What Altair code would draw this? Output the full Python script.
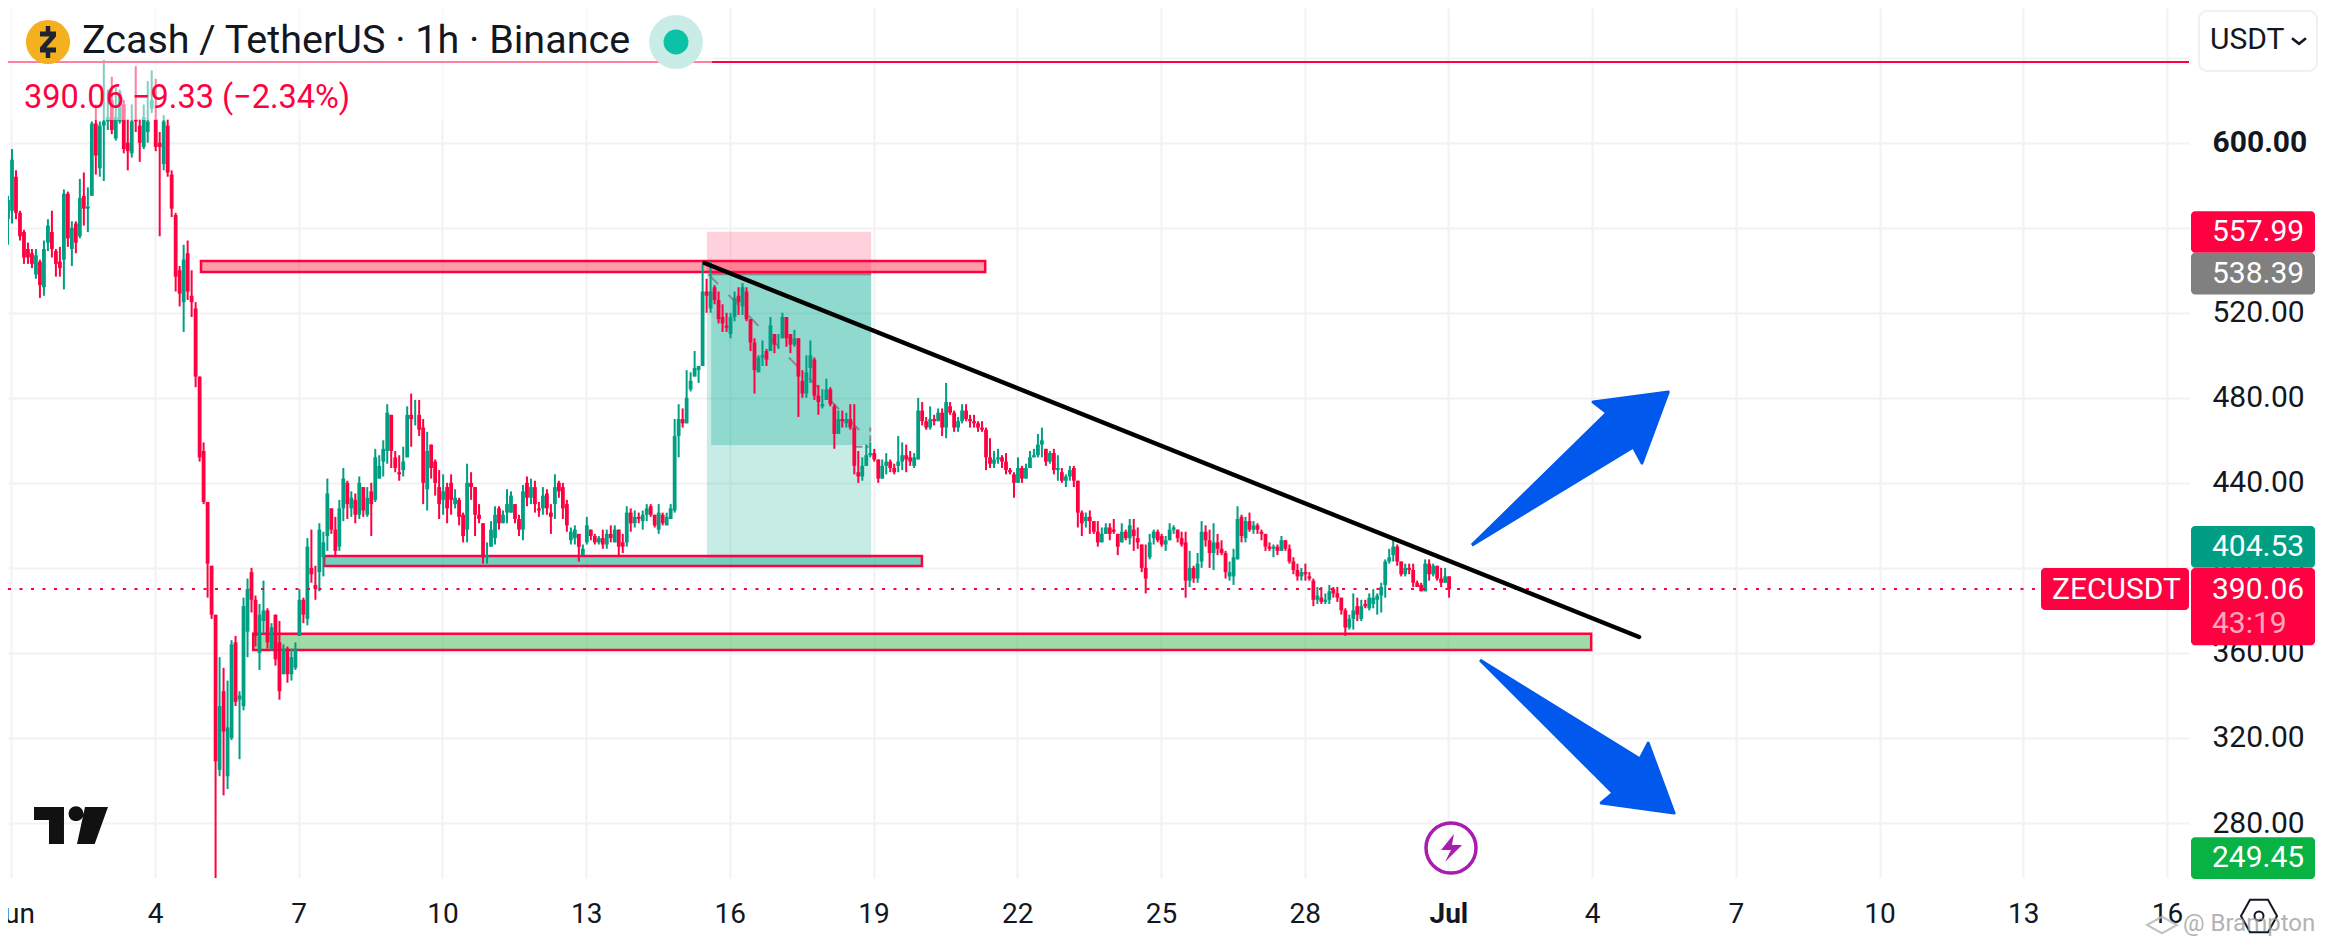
import altair as alt
import pandas as pd

# candles: (open, high, low, close), two-hour steps
seg_jun1 = [(564,575,552,573),(568,597,562,592),(584,587,564,567),(567,568,554,556),(558,559,543,546),(550,553,543,546),(548,550,541,543),(538,550,536,547),(544,545,527,533),(532,554,528,550),(553,564,549,561),(558,568,546,550),
(549,550,537,543),(544,551,537,541),(545,578,531,576),(576,577,551,555),(550,563,542,560),(562,563,548,553),(556,583,555,574),(575,586,561,569),(569,579,558,570),(575,610,575,609),(609,618,585,594),(588,610,584,608)]
seg_jun3 = [(608,639,582,610),(610,625,606,612),(620,631,604,606),(602,626,601,612),(610,625,609,624),(618,620,595,597),(600,611,587,596),(595,618,593,610),(611,636,605,610),(608,611,591,600),(598,618,597,612),(605,629,600,610),
(616,634,614,620),(611,630,596,598),(600,605,556,598),(590,613,587,610),(608,611,584,586),(585,587,565,569),(566,567,530,537),(540,542,523,529),(525,552,511,545),(548,554,526,530),(528,540,518,525),(522,525,485,490)]
seg_jun5 = [(490,490,450,452),(455,459,430,431),(431,431,386,402),(401,401,376,378),(378,378,253,309),(305,358,302,335),(342,353,293,323),(302,347,296,325),(320,366,319,364),(365,368,335,337),(338,342,310,340),(335,386,333,382),
(370,395,358,390),(398,400,379,385),(385,387,363,368),(360,383,352,378),(375,394,369,380),(380,381,362,365),(362,374,361,372),(378,377,354,357),(365,375,338,342),(350,364,351,362),(362,363,346,350),(350,362,347,358)]
seg_jun7 = [(353,365,352,362),(368,390,372,385),(385,386,374,378),(376,414,373,410),(400,418,393,397),(392,401,385,390),(398,421,389,418),(405,417,396,412),(415,442,408,435),(428,428,416,418),(418,424,405,408),(410,432,408,428),
(428,447,422,442),(440,441,423,430),(428,436,424,433),(432,435,421,425),(425,443,423,440),(438,436,424,427),(425,438,424,433),(436,440,415,430),(432,456,431,452),(442,453,442,448),(450,460,443,456),(455,477,449,473)]
seg_jun9 = [(472,472,447,455),(452,455,445,447),(445,453,441,444),(446,457,443,450),(452,476,452,472),(472,482,457,470),(470,479,467,470),(472,479,462,465),(466,470,430,440),(437,464,427,455),(458,458,442,447),(450,451,434,440),
(438,446,423,430),(432,444,425,436),(438,440,421,428),(440,444,425,432),(430,437,428,433),(432,433,420,424),(425,426,412,415),(418,449,412,440),(440,445,432,438),(438,438,415,425),(425,430,421,423),(421,421,402,405)]
seg_jun11 = [(405,412,402,406),(410,422,411,418),(414,429,411,425),(428,429,418,421),(421,427,421,425),(426,437,421,430),(426,436,426,434),(430,430,421,423),(423,425,415,418),(418,439,413,436),(440,443,429,433),(433,442,430,438),
(438,441,426,430),(428,431,424,427),(428,438,425,434),(435,437,425,428),(426,430,416,424),(430,444,423,438),(440,441,433,436),(438,440,423,428),(430,432,417,420),(413,419,411,417),(414,420,411,418),(416,416,403,410)]
seg_jun13 = [(406,411,406,409),(412,424,411,420),(418,418,413,415),(415,416,411,412),(412,415,411,414),(414,418,409,411),(411,418,409,416),(416,420,412,414),(412,420,413,418),(418,418,406,410),(412,416,407,410),(412,429,410,426),
(426,428,417,421),(421,427,419,424),(424,426,421,423),(422,427,418,425),(425,430,422,428),(429,430,424,425),(425,425,419,420),(418,430,416,426),(425,426,420,421),(420,426,420,424),(423,430,424,428),(427,470,426,462)]
seg_jun15 = [(462,477,452,470),(470,475,466,468),(468,493,469,480),(484,492,483,488),(490,502,490,494),(493,495,487,495),(495,543,495,530),(530,536,520,528),(522,544,520,530),(532,533,524,526),(526,530,515,517),(518,524,511,515),
(514,520,511,513),(510,520,508,518),(518,530,516,527),(528,532,519,525),(523,534,519,532),(530,532,516,517),(517,517,502,506),(506,508,482,493),(492,500,492,499),(499,507,495,500),(502,503,495,498),(502,518,504,514)]
seg_jun17 = [(510,510,501,505),(505,510,503,505),(508,520,509,518),(518,518,504,508),(510,510,501,505),(505,512,504,508),(508,508,471,490),(488,493,480,482),(482,500,480,492),(494,507,487,500),(498,499,479,481),(481,486,472,478),
(476,484,475,477),(479,489,483,484),(484,485,476,477),(476,477,456,463),(463,474,463,470),(470,474,466,469),(468,473,466,470),(470,477,465,466),(466,477,444,448),(445,455,440,443),(443,452,441,448),(448,458,450,453)]
seg_jun19 = [(453,459,452,454),(454,456,450,451),(451,451,440,442),(442,451,442,448),(448,454,444,450),(450,451,445,447),(447,449,444,445),(448,462,445,450),(450,459,446,453),(453,458,445,451),(452,455,448,450),(448,454,447,452),
(451,480,451,474),(474,478,467,469),(469,471,465,466),(466,476,465,470),(470,472,467,469),(469,475,469,473),(473,475,462,466),(466,487,461,478),(476,478,472,473),(473,474,464,466),(466,471,464,469),(469,477,468,474)]
seg_jun21 = [(474,477,469,470),(470,472,466,469),(469,472,466,468),(468,469,464,466),(466,469,464,465),(465,466,446,452),(452,461,447,449),(449,455,447,451),(451,456,449,452),(452,453,447,450),(450,454,444,446),(446,447,444,445),
(444,445,433,440),(440,452,441,447),(447,448,440,442),(442,449,442,447),(447,455,447,452),(452,456,452,453),(453,463,452,458),(458,466,452,460),(456,456,448,450),(450,455,449,454),(454,456,444,446),(446,453,441,447)]
seg_jun23 = [(445,447,440,441),(441,444,438,443),(443,448,441,446),(447,448,438,441),(441,441,419,426),(426,427,415,421),(422,426,419,424),(424,427,416,422),(422,422,416,417),(417,422,410,412),(412,419,413,416),(416,421,416,419),
(419,421,413,416),(418,423,416,417),(416,416,406,410),(412,421,413,417),(417,418,413,414),(414,423,411,420),(418,423,408,415),(414,419,409,412),(411,411,398,400),(400,411,388,395),(405,416,404,412),(414,418,411,417)]
seg_jun25 = [(417,418,412,413),(415,416,410,411),(411,415,408,413),(413,421,413,418),(418,420,416,419),(418,418,412,414),(414,417,410,411),(412,417,386,394),(394,408,391,400),(400,401,393,395),(395,407,393,402),(403,422,400,417),
(417,420,410,413),(413,418,400,407),(407,421,399,412),(412,416,406,409),(409,413,406,407),(407,408,395,398),(396,403,394,398),(396,409,392,405),(404,429,404,423),(424,425,412,415),(414,424,412,422),(422,426,417,418)]
seg_jun27 = [(418,422,416,420),(420,421,416,418),(417,418,413,416),(416,416,408,410),(410,412,408,409),(409,411,405,410),(410,411,406,408),(408,415,408,413),(413,413,408,409),(409,411,402,403),(403,405,397,399),(399,402,394,396),
(396,400,394,398),(398,402,394,397),(396,398,394,395),(394,395,382,385),(385,391,383,387),(386,391,383,384),(384,388,383,385),(385,392,383,389),(390,391,386,388),(388,391,384,386),(386,386,378,380),(380,381,368,372)]
seg_jun29 = [(372,378,371,376),(376,388,371,380),(382,386,375,378),(376,385,375,382),(383,385,381,382),(381,388,380,386),(383,390,381,386),(385,388,378,387),(387,393,379,391),(392,404,386,403),(403,409,402,405),(406,414,403,410),
(410,411,401,403),(403,403,396,397),(397,402,396,400),(400,402,397,399),(399,402,391,393),(393,394,391,391),(392,393,389,389),(389,404,389,402),(402,404,394,397),(397,402,396,401),(401,401,394,395),(395,400,391,393),(393,400,394,396),(396,396,386,390.06)]

GREEN, RED = "#009f83", "#ff0040"
INK = "#131722"
FONT = "Roboto"
X0, X1 = 0.931, 46.46           # days of the left and right plot edges
Y0, Y1 = 254.13, 663.36         # prices of the bottom and top plot edges
xs = alt.Scale(domain=[X0, X1], nice=False, zero=False)
ys = alt.Scale(domain=[Y0, Y1], nice=False, zero=False)

price_ticks = [280, 320, 360, 400, 440, 480, 520, 560, 600, 640]
day_ticks = list(range(1, 47, 3))

rows = (seg_jun1 + seg_jun3 + seg_jun5 + seg_jun7 + seg_jun9 + seg_jun11 + seg_jun13 + seg_jun15
        + seg_jun17 + seg_jun19 + seg_jun21 + seg_jun23 + seg_jun25 + seg_jun27 + seg_jun29)
candles = pd.DataFrame(rows, columns=["o", "h", "l", "c"])
candles["d"] = [X0 + i / 12 for i in range(len(rows))]
candles["h"] = candles[["o", "h", "c"]].max(axis=1)
candles["l"] = candles[["o", "l", "c"]].min(axis=1)
candles["col"] = [GREEN if c >= o else RED for o, c in zip(candles.o, candles.c)]

# the same axis objects go on every layer, so that Vega-Lite merges them into one
x_axis = alt.Axis(values=day_ticks, grid=True, gridColor="#f1f2f4", gridWidth=2, domain=False, ticks=False,
                  labelFont=FONT, labelFontSize=28, labelColor=INK, labelPadding=22, labelOverlap=False,
                  labelBound=False, labelFlush=False, labelAngle=0,
                  labelFontWeight=alt.expr("datum.value==31?'bold':'normal'"),
                  labelExpr="datum.value==1?'Jun':datum.value==31?'Jul':datum.value>31?toString(datum.value-30):toString(datum.value)",
                  title=None)
y_axis = alt.Axis(values=price_ticks, orient="right", grid=True, gridColor="#f1f2f4", gridWidth=2, domain=False, ticks=False,
                  labelFont=FONT, labelFontSize=30, labelColor=INK, labelPadding=23, labelOverlap=False,
                  labelBound=False, labelFlush=False,
                  labelFontWeight=alt.expr("datum.value==600?'bold':'normal'"),
                  labelExpr="datum.value==640?'':format(datum.value,'.2f')", title=None)

def px(v):
    return v - 8

def X(f="d"):
    return alt.X(f"{f}:Q", scale=xs, axis=x_axis, title=None)

def Y(f="p"):
    return alt.Y(f"{f}:Q", scale=ys, axis=y_axis, title=None)

def rect(d1, d2, p1, p2, **kw):
    df = pd.DataFrame({"d": [d1], "d2": [d2], "p": [p1], "p2": [p2]})
    return alt.Chart(df).mark_rect(**kw).encode(x=X("d"), x2="d2:Q", y=Y("p"), y2="p2:Q")

def line(ds, ps, **kw):
    df = pd.DataFrame({"d": ds, "p": ps, "o": range(len(ds))})
    return alt.Chart(df).mark_line(**kw).encode(x=X("d"), y=Y("p"), order="o:Q")

def label(txt, xp, yp, size=30, color=INK, weight="normal", align="left", opacity=1):
    df = pd.DataFrame({"t": [txt]})
    return alt.Chart(df).mark_text(font=FONT, fontSize=size, fontWeight=weight, align=align, baseline="middle",
                                   color=color, opacity=opacity).encode(
        text="t:N", x=alt.value(px(xp)), y=alt.value(px(yp)))

def glyph(path, xp, yp, size, filled=True, color=INK, sw=2, opacity=1):
    df = pd.DataFrame({"k": [0]})
    kw = dict(fill=color, strokeWidth=0) if filled else dict(stroke=color, strokeWidth=sw, fill="transparent")
    return alt.Chart(df).mark_point(shape=path, size=size, opacity=opacity, **kw).encode(
        x=alt.value(px(xp)), y=alt.value(px(yp)))

wicks = alt.Chart(candles).mark_rule(strokeWidth=2, clip=True).encode(
    x=X("d"), y=Y("h"), y2="l:Q", color=alt.Color("col:N", scale=None))
bodies = alt.Chart(candles).mark_rule(strokeWidth=3.8, clip=True).encode(
    x=X("d"), y=Y("o"), y2="c:Q", color=alt.Color("col:N", scale=None))

# trade-position drawing
pos_stop = rect(15.52, 18.95, 558.1, 538.3, fill=RED, opacity=0.18)
pos_target = rect(15.52, 18.95, 538.3, 404.5, fill="#00a88e", opacity=0.22)
pos_fill = rect(15.61, 18.95, 538.3, 457.8, fill="#00a88e", opacity=0.28)
pos_entry = line([15.61, 18.95], [538.2, 538.2], color="#888888", strokeWidth=2.5)
path_a = line([15.55, 18.93], [538.2, 459.5], color="#8a8a8a", strokeWidth=2, strokeDash=[14, 15])
path_b = line([18.93, 18.93], [459.5, 466], color="#8a8a8a", strokeWidth=2, strokeDash=[6, 4])
path_c = line([18.6, 18.9], [457, 457], color="#8a8a8a", strokeWidth=2, strokeDash=[8, 4])

# zones
zone_red = rect(4.96, 21.33, 544.4, 539.2, fill="#ff082a", fillOpacity=0.4, stroke=RED, strokeWidth=2.5)
zone_teal = rect(7.53, 20.01, 405.6, 400.9, fill="#00ab8c", fillOpacity=0.55, stroke=RED, strokeWidth=2.5)
zone_green = rect(6.05, 33.98, 369.0, 361.4, fill="#4ec160", fillOpacity=0.55, stroke=RED, strokeWidth=2.5)

# horizontal lines
top_line = line([X0, X1], [637.96, 637.96], color=RED, strokeWidth=2)
last_line = line([X0, 43.37], [390.06, 390.06], color=RED, strokeWidth=2, strokeDash=[3, 8.5])

trend = line([15.47, 34.98], [543.4, 367.5], color="#000000", strokeWidth=4.4, strokeCap="round")

# arrows
up_d = [31.49, 34.31, 34.02, 35.59, 35.04, 34.86, 31.49]
up_p = [410.7, 472.9, 478.0, 482.7, 449.3, 456.9, 410.7]
dn_d = [31.66, 35.0, 35.17, 35.71, 34.19, 34.44, 31.66]
dn_p = [356.7, 310.1, 317.6, 284.7, 289.4, 294.1, 356.7]
BLUE = "#0059ec"
arrow_up = line(up_d, up_p, color=BLUE, fill=BLUE, strokeWidth=3, strokeJoin="round")
arrow_dn = line(dn_d, dn_p, color=BLUE, fill=BLUE, strokeWidth=3, strokeJoin="round")

# legend band
band = rect(X0, 15.63, 610.7, Y1, fill="#ffffff", opacity=0.5)

# header
halo = glyph("circle", 676, 42, 2900, color="#c9ece6")
dot = glyph("circle", 676, 42, 620, color="#0bc2a7")
coin = glyph("circle", 48, 42, 1950, color="#f4b01e")
title = label("Zcash / TetherUS · 1h · Binance", 82, 41, size=39.5)
ZEC = ("M-0.5,-0.65 L0.5,-0.65 L0.5,-0.35 L-0.1,0.35 L0.5,0.35 L0.5,0.65 L-0.5,0.65 L-0.5,0.35 L0.1,-0.35 L-0.5,-0.35 Z "
       "M-0.14,-1 L0.14,-1 L0.14,-0.65 L-0.14,-0.65 Z M-0.14,0.65 L0.14,0.65 L0.14,1 L-0.14,1 Z")
coin_z = glyph(ZEC, 48, 42, 32 * 32, color="#1f2430")
quote = label("390.06 −9.33 (−2.34%)", 24, 98, size=32.5, color=RED)

# price boxes (TradingView pushes colliding labels apart, so the box mid differs from the value)
BOX_X0, BOX_X1 = 2191, 2315
box_names = ["557.99", "538.39", "404.53", "249.45"]
box_mids = [558.0, 538.4, 409.9, 263.5]
box_cols = [RED, "#808080", GREEN, "#08b344"]
boxes = []
for n, m, c in zip(box_names, box_mids, box_cols):
    df = pd.DataFrame({"p": [m + 9.8], "p2": [m - 9.8]})
    boxes.append(alt.Chart(df).mark_rect(fill=c, cornerRadius=4).encode(
        x=alt.value(px(BOX_X0)), x2=alt.value(px(BOX_X1)), y=Y("p"), y2="p2:Q"))
    boxes.append(alt.Chart(pd.DataFrame({"t": [n], "p": [m]})).mark_text(
        font=FONT, fontSize=30, align="left", baseline="middle", color="#ffffff").encode(
        text="t:N", x=alt.value(px(2212)), y=Y("p")))
last_box = alt.Chart(pd.DataFrame({"p": [400.0], "p2": [363.6]})).mark_rect(fill=RED, cornerRadius=4).encode(
    x=alt.value(px(BOX_X0)), x2=alt.value(px(BOX_X1)), y=Y("p"), y2="p2:Q")
sym_box = alt.Chart(pd.DataFrame({"p": [400.0], "p2": [380.2]})).mark_rect(fill=RED, cornerRadius=4).encode(
    x=alt.value(px(2041)), x2=alt.value(px(2189)), y=Y("p"), y2="p2:Q")
sym_text = label("ZECUSDT", 2052, 589.5, color="#ffffff")
last_text = label("390.06", 2212, 589.5, color="#ffffff")
count_text = label("43:19", 2212, 624, color="#ffffff", opacity=0.65)

# currency button
button = alt.Chart(pd.DataFrame({"k": [0]})).mark_rect(fill="#ffffff", stroke="#eef0f3", strokeWidth=2, cornerRadius=8).encode(
    x=alt.value(px(2199)), x2=alt.value(px(2317)), y=alt.value(px(11)), y2=alt.value(px(71)))
usdt = label("USDT", 2210, 40)
chevron = glyph("M-1,-0.4 L0,0.4 L1,-0.4", 2299, 41, 196, filled=False, color=INK, sw=2.5)

# logo, bolt icon, settings, watermark
LOGO = ("M-1,-0.5 L-0.19,-0.5 L-0.19,0.5 L-0.595,0.5 L-0.595,-0.149 L-1,-0.149 Z "
        "M0.378,-0.5 L1,-0.5 L0.64,0.5 L0.162,0.5 Z "
        "M-0.065,-0.32 a0.2,0.2 0 1,0 0.4,0 a0.2,0.2 0 1,0 -0.4,0 Z")
logo = glyph(LOGO, 71, 825.5, 74 * 74, color="#111111")
ring = glyph("circle", 1451, 848, 2500, filled=False, color="#a81dad", sw=3.5)
bolt = glyph("M0.21,-1 L-0.71,0.14 L0,0.14 L-0.43,1 L0.79,-0.21 L0.07,-0.21 Z", 1451, 848, 784, color="#a81dad")
HEX = ("M-1,0 L-0.5,-0.9 L0.5,-0.9 L1,0 L0.5,0.9 L-0.5,0.9 Z "
       "M-0.25,0 a0.25,0.25 0 1,0 0.5,0 a0.25,0.25 0 1,0 -0.5,0 Z")
hexagon = glyph(HEX, 2259, 916, 36 * 36, filled=False, color=INK, sw=2)
mark_txt = label("@ Brampton", 2183, 924, size=24, color="#9a9a9a", opacity=0.75)
mark_icon = glyph("M-1,0 L0,-0.55 L1,0 L0,0.55 Z", 2162, 925, 900, filled=False, color="#b5b5b5", sw=2, opacity=0.8)

layers = [pos_stop, pos_target, pos_fill, pos_entry, path_a, path_b, path_c,
          zone_red, zone_teal, zone_green, wicks, bodies, top_line, last_line, trend,
          arrow_up, arrow_dn, band, halo, dot, coin, coin_z, title, quote, logo, ring, bolt,
          sym_box, sym_text, *boxes, last_box, last_text, count_text,
          button, usdt, chevron, hexagon, mark_icon, mark_txt]

chart = alt.layer(*layers).properties(
    width=2181, height=870, autosize="none",
    padding={"left": 0, "top": 0, "right": 130, "bottom": 60},
).configure_view(strokeWidth=0)

chart.save("out.html", embed_options={"renderer": "svg", "actions": False})
